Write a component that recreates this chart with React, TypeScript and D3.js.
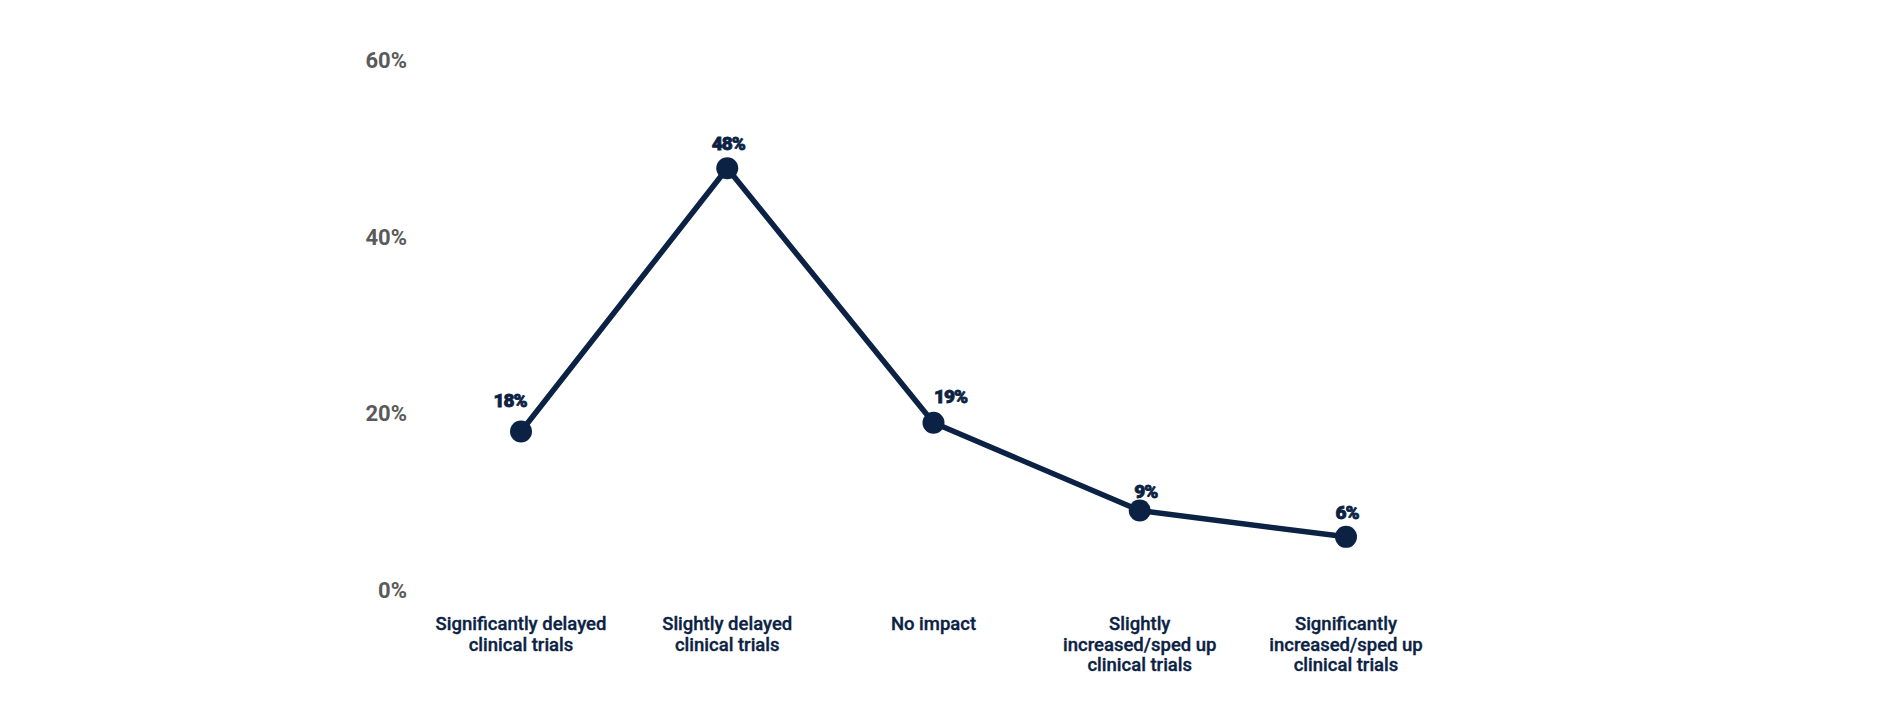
import React from "react";
import * as d3 from "d3";

const categories: string[][] = [
  ["Significantly delayed", "clinical trials"],
  ["Slightly delayed", "clinical trials"],
  ["No impact"],
  ["Slightly", "increased/sped up", "clinical trials"],
  ["Significantly", "increased/sped up", "clinical trials"],
];
const values: number[] = [18, 48, 19, 9, 6];
const valueLabels: string[] = ["18%", "48%", "19%", "9%", "6%"];
const yTicks: number[] = [0, 20, 40, 60];

// label offsets relative to point (styling)
const labelDx = [-11, 1, 17, 6, 1];
const labelDy = [-25, -18, -20, -13, -18];

const W = 1878;
const H = 712;
const NAVY = "#0b2244";

export default function App() {
  const keys = categories.map((c) => c.join(" "));
  const x = d3.scalePoint<string>().domain(keys).range([521, 1346]);
  const y = d3.scaleLinear().domain([0, 60]).range([589.5, 63]);
  const line = d3
    .line<number>()
    .x((_, i) => x(keys[i]) as number)
    .y((d) => y(d));

  return (
    <svg
      width={W}
      height={H}
      style={{ position: "absolute", left: 0, top: 0, background: "#fff" }}
    >
      {yTicks.map((t) => (
        <text
          key={t}
          x={407}
          y={y(t) + 8 - t * 0.05}
          textAnchor="end"
          fontFamily="Roboto, sans-serif"
          fontWeight={700}
          fontSize={22}
          fill="#5a5a5a"
        >
          {t}%
        </text>
      ))}
      <path d={line(values) || ""} fill="none" stroke={NAVY} strokeWidth={5.5} strokeLinejoin="round" />
      {values.map((v, i) => (
        <circle key={i} cx={x(keys[i]) as number} cy={y(v)} r={11} fill={NAVY} />
      ))}
      {values.map((v, i) => (
        <text
          key={"l" + i}
          x={(x(keys[i]) as number) + labelDx[i]}
          y={y(v) + labelDy[i]}
          textAnchor="middle"
          fontFamily="Roboto, sans-serif"
          fontWeight={900}
          fontSize={19}
          letterSpacing={-1}
          fill={NAVY}
          stroke={NAVY}
          strokeWidth={0.8}
        >
          {valueLabels[i]}
        </text>
      ))}
      {categories.map((lines, i) => (
        <text
          key={"c" + i}
          textAnchor="middle"
          fontFamily="Roboto, sans-serif"
          fontWeight={500}
          fontSize={18.5}
          fill={NAVY}
          stroke={NAVY}
          strokeWidth={0.35}
        >
          {lines.map((ln, j) => (
            <tspan key={j} x={x(keys[i]) as number} y={630 + j * 20.5}>
              {ln}
            </tspan>
          ))}
        </text>
      ))}
    </svg>
  );
}
